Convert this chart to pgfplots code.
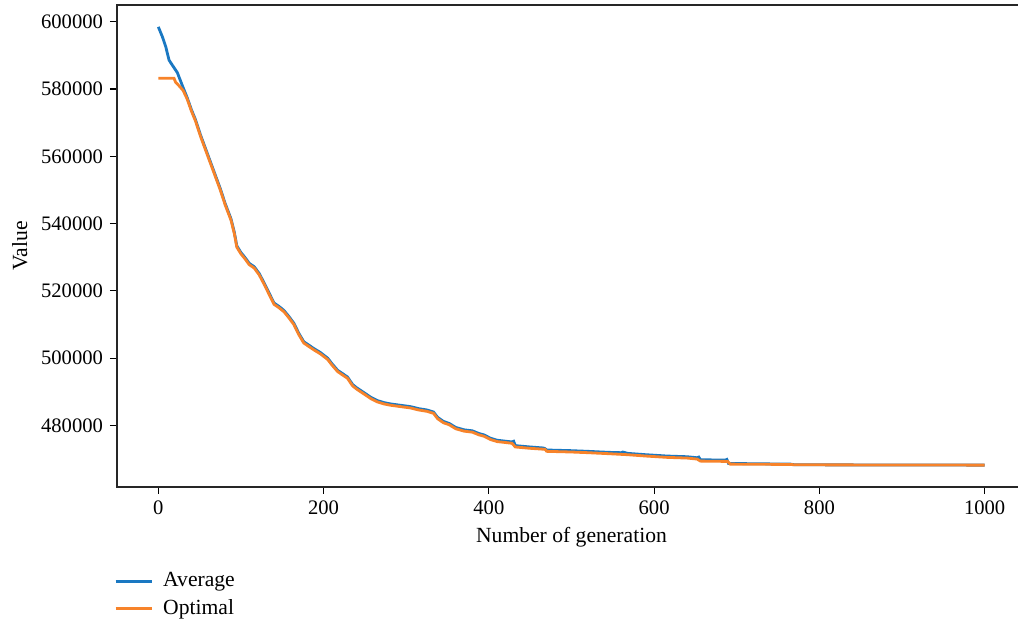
\documentclass[border=0pt]{standalone}
\usepackage{fontspec}
\setmainfont{Liberation Serif}
\usepackage{pgfplots}
\pgfplotsset{compat=1.18}
\usetikzlibrary{calc}
\definecolor{avgblue}{HTML}{1A78C2}
\definecolor{optorange}{HTML}{F7832A}

% convergence curves
\pgfplotstableread{
gen value
0 598500
5 595500
9 592600
13 588600
17 587100
23 584900
29 581100
35 577400
40 573900
45 570900
51 566400
57 562400
63 558400
69 554400
75 550400
81 545900
88 541400
92 537400
95 533400
100 531400
105 529900
110 528200
116 527200
122 525200
128 522400
134 519400
140 516400
146 515400
152 514200
158 512400
164 510400
170 507400
176 504900
182 503900
188 502900
196 501700
205 500000
210 498400
217 496400
223 495400
229 494400
235 492200
240 491200
248 489900
257 488400
265 487400
273 486800
281 486400
293 486000
305 485600
315 485000
325 484600
333 484000
338 482400
345 481200
352 480600
360 479400
370 478700
380 478400
388 477600
394 477200
402 476200
410 475600
428 475100
430 475300
432 474000
450 473600
466 473300
468 473100
470 472700
500 472500
520 472300
545 472000
560 471900
562 472100
568 471700
590 471300
616 470900
640 470700
652 470400
654 470600
656 469800
686 469700
688 469900
690 468700
765 468500
770 468300
1000 468200
}\avgdata

\pgfplotstableread{
gen value
0 583200
19 583200
21 582000
25 581000
30 579600
35 577000
40 573500
45 570500
51 566000
57 562000
63 558000
69 554000
75 550000
81 545500
88 541000
92 537000
95 533000
100 531000
105 529500
110 527800
116 526800
122 524800
128 522000
134 519000
140 516000
146 515000
152 513800
158 512000
164 510000
170 507000
176 504500
182 503500
188 502500
196 501300
205 499600
210 498000
217 496000
223 495000
229 494000
235 491800
240 490800
248 489500
257 488000
265 487000
273 486400
281 486000
293 485600
305 485200
315 484600
325 484200
333 483600
338 482000
345 480800
352 480200
360 479000
370 478300
380 478000
388 477200
394 476800
402 475800
410 475200
428 474700
432 473600
450 473200
468 472900
470 472300
500 472100
520 471900
545 471600
568 471300
590 470900
616 470500
640 470300
652 470000
656 469400
689 469300
692 468500
765 468400
770 468300
1000 468200
}\optdata

\begin{document}
\begin{tikzpicture}
\begin{axis}[
  name=ax,
  scale only axis,
  width=454.5pt, height=241pt,
  xmin=-50, xmax=1050,
  ymin=461700, ymax=605000,
  xtick={0,200,400,600,800,1000},
  ytick={480000,500000,520000,540000,560000,580000,600000},
  scaled ticks=false,
  /pgf/number format/fixed,
  /pgf/number format/1000 sep={},
  /pgf/number format/assume math mode=true,
  tick align=outside,
  tick pos=left,
  major tick length=3.5pt,
  tick style={black, line width=0.6pt},
  axis line style={black!85, line width=0.9pt},
  font=\fontsize{10.8}{13}\selectfont,
  ticklabel style={font=\fontsize{10.3}{12.5}\selectfont},
  xlabel={Number of generation},
  ylabel={Value},
  xlabel style={at={(axis description cs:0.5,-0.104)}, anchor=center},
  ylabel style={at={(axis description cs:-0.107,0.5)}, anchor=center},
  legend style={at={(-0.0035,-0.168)}, anchor=north west, draw=none, fill=none,
    inner sep=0pt, row sep=0.8pt,
    font=\fontsize{10.8}{13}\selectfont,
    nodes={inner xsep=5pt}},
  legend cell align=left,
  legend image code/.code={\draw[#1, line width=1.5pt] (0pt,0pt) -- (18pt,0pt);},
]
\addplot[avgblue, line width=1.4pt] table[x=gen, y=value] {\avgdata};
\addplot[optorange, line width=1.4pt] table[x=gen, y=value] {\optdata};
\legend{Average, Optimal}
\end{axis}
\pgfresetboundingbox
\path[use as bounding box] ($(ax.south west)+(-58.5pt,-66.5pt)$) rectangle ($(ax.north east)+(-4pt,2.5pt)$);
\end{tikzpicture}
\end{document}
